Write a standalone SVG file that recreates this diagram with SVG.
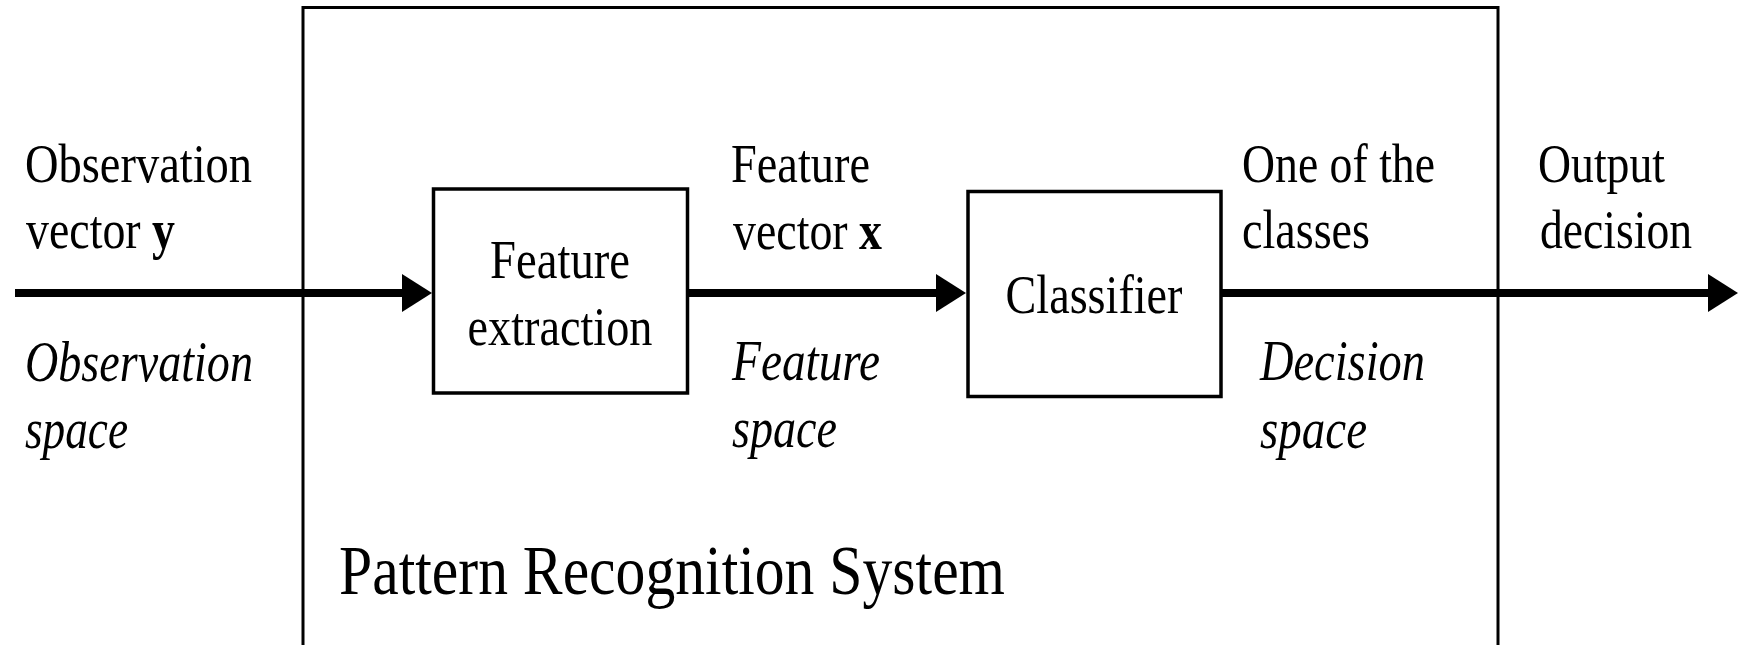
<svg xmlns="http://www.w3.org/2000/svg" width="1738" height="645" viewBox="0 0 1738 645">
<style>
text{font-family:"Liberation Serif","Times New Roman",serif;fill:#000;}
.r{font-size:55px;}
.i{font-size:57px;font-style:italic;}
.b{font-weight:bold;}
.box{fill:#fff;stroke:#000;stroke-width:3.5;}
.sys{fill:none;stroke:#000;stroke-width:3;}
.conn{stroke:#000;stroke-width:8;fill:none;marker-end:url(#ah);}
</style>
<defs>
<marker id="ah" viewBox="0 0 30 38" refX="15" refY="19" markerWidth="30" markerHeight="38" markerUnits="userSpaceOnUse" orient="auto">
<polygon points="0,0 30,19 0,38" fill="#000"/>
</marker>
</defs>
<rect width="1738" height="645" fill="#fff"/>
<g id="system">
<rect class="sys" x="303" y="7.5" width="1195" height="700"/>
<text x="339" y="594" style="font-size:69px" textLength="666" lengthAdjust="spacingAndGlyphs">Pattern Recognition System</text>
</g>
<g id="connectors">
<line class="conn" x1="15" y1="293" x2="417" y2="293"/>
<line class="conn" x1="688" y1="293" x2="951" y2="293"/>
<line class="conn" x1="1222" y1="293" x2="1723" y2="293"/>
</g>
<g id="feature-extraction">
<rect class="box" x="433.5" y="189" width="254" height="204"/>
<text class="r" x="560" y="278" text-anchor="middle" textLength="140" lengthAdjust="spacingAndGlyphs">Feature</text>
<text class="r" x="560" y="345" text-anchor="middle" textLength="185" lengthAdjust="spacingAndGlyphs">extraction</text>
</g>
<g id="classifier">
<rect class="box" x="968" y="191.5" width="253" height="205"/>
<text class="r" x="1094" y="313" text-anchor="middle" textLength="177" lengthAdjust="spacingAndGlyphs">Classifier</text>
</g>
<g id="labels">
<text class="r" x="25" y="182" textLength="227" lengthAdjust="spacingAndGlyphs">Observation</text>
<text class="r" x="26" y="248" textLength="149" lengthAdjust="spacingAndGlyphs">vector <tspan class="b">y</tspan></text>
<text class="i" x="25" y="381" textLength="228" lengthAdjust="spacingAndGlyphs">Observation</text>
<text class="i" x="25" y="448" textLength="103" lengthAdjust="spacingAndGlyphs">space</text>
<text class="r" x="731" y="182" textLength="139" lengthAdjust="spacingAndGlyphs">Feature</text>
<text class="r" x="733" y="249" textLength="149" lengthAdjust="spacingAndGlyphs">vector <tspan class="b">x</tspan></text>
<text class="i" x="732" y="380" textLength="148" lengthAdjust="spacingAndGlyphs">Feature</text>
<text class="i" x="732" y="447" textLength="105" lengthAdjust="spacingAndGlyphs">space</text>
<text class="r" x="1242" y="182" textLength="193" lengthAdjust="spacingAndGlyphs">One of the</text>
<text class="r" x="1242" y="248" textLength="128" lengthAdjust="spacingAndGlyphs">classes</text>
<text class="i" x="1260" y="380" textLength="165" lengthAdjust="spacingAndGlyphs">Decision</text>
<text class="i" x="1260" y="448" textLength="107" lengthAdjust="spacingAndGlyphs">space</text>
<text class="r" x="1538" y="182" textLength="127" lengthAdjust="spacingAndGlyphs">Output</text>
<text class="r" x="1540" y="248" textLength="152" lengthAdjust="spacingAndGlyphs">decision</text>
</g>
</svg>
